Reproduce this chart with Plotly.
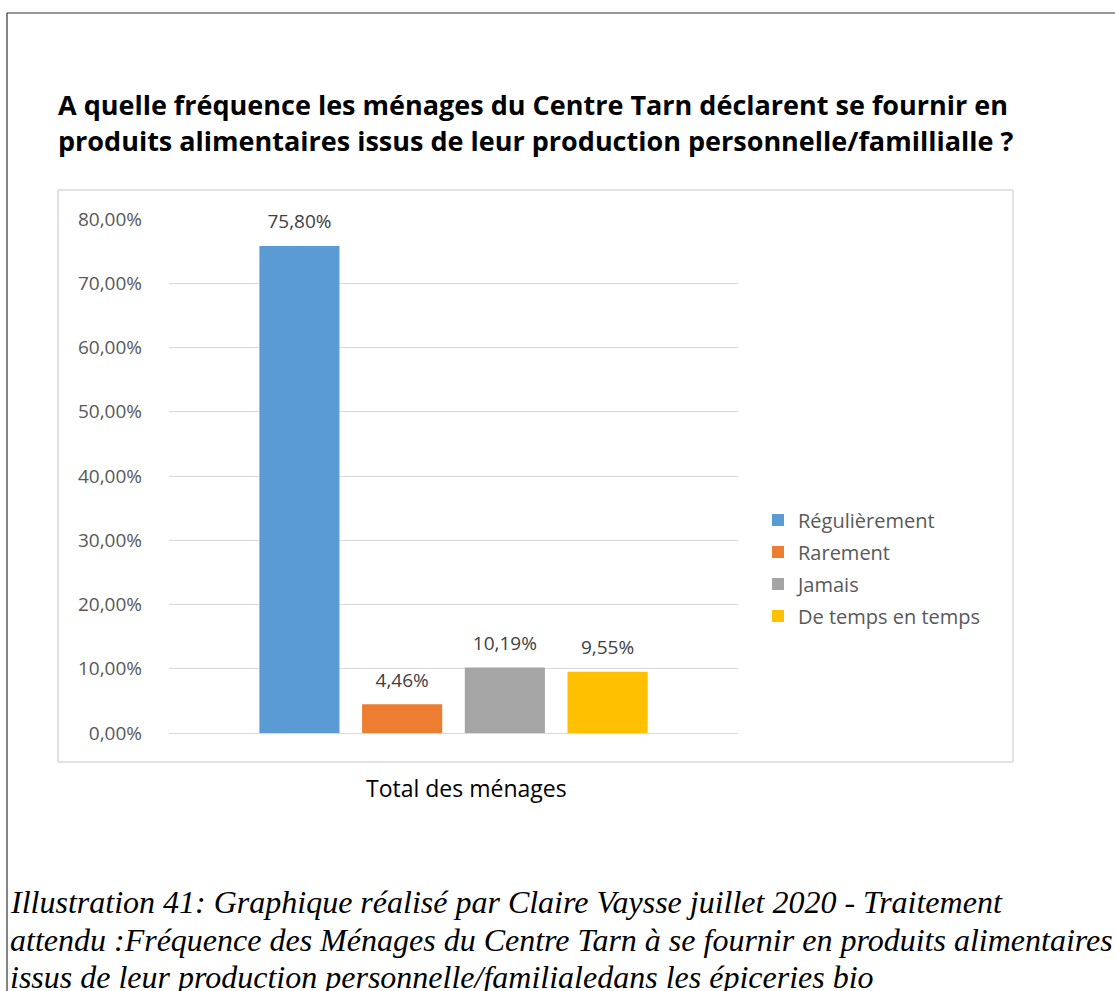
import plotly.graph_objects as go

# ---- data ----
category = ["Total des ménages"]
series_names = ["Régulièrement", "Rarement", "Jamais", "De temps en temps"]
series_values = [75.80, 4.46, 10.19, 9.55]
series_labels = ["75,80%", "4,46%", "10,19%", "9,55%"]
series_colors = ["#5B9BD5", "#ED7D31", "#A5A5A5", "#FFC000"]
tick_vals = [0, 10, 20, 30, 40, 50, 60, 70, 80]
tick_text = ["0,00%", "10,00%", "20,00%", "30,00%", "40,00%", "50,00%",
             "60,00%", "70,00%", "80,00%"]
title_lines = [
    "A quelle fréquence les ménages du Centre Tarn déclarent se fournir en",
    "produits alimentaires issus de leur production personnelle/famillialle ?",
]
caption_lines = [
    "Illustration 41: Graphique réalisé par Claire Vaysse juillet 2020 - Traitement",
    "attendu :Fréquence des Ménages du Centre Tarn à se fournir en produits alimentaires",
    "issus de leur production personnelle/familialedans les épiceries bio",
]

W, H = 1115, 991
PL, PR, PT, PB = 169, 738, 219, 733  # plot area in pixels


def px(x):
    return (x - PL) / (PR - PL)


def py(y):
    return (PB - y) / (PB - PT)


FONT = "Open Sans"
fig = go.Figure()
for name, val, lab, col in zip(series_names, series_values, series_labels, series_colors):
    fig.add_trace(go.Bar(
        x=category, y=[val], name=name, marker=dict(color=col, line=dict(width=0)),
        text=[lab],
        texttemplate="<span style='font-size:19px'>%{text}</span><br> ",
        textposition="outside",
        textfont=dict(family=FONT, size=9, color="#404040"),
        cliponaxis=False, legendgroup=name,
    ))

annotations = []
# title
for k, t in enumerate(title_lines):
    annotations.append(dict(text="<b>" + t + "</b>", xref="paper", yref="paper",
                            x=px(56), y=py(105 + k * 35), xanchor="left", yanchor="middle",
                            showarrow=False, font=dict(family=FONT, size=27, color="#000000")))
# x axis category label
annotations.append(dict(text=category[0], xref="paper", yref="paper",
                        x=px(466), y=py(788), xanchor="center", yanchor="middle",
                        showarrow=False, font=dict(family=FONT, size=23, color="#000000")))
# caption
for k, t in enumerate(caption_lines):
    annotations.append(dict(text="<i>" + t + "</i>", xref="paper", yref="paper",
                            x=px(8), y=py(902 + k * 37.5), xanchor="left", yanchor="middle",
                            showarrow=False,
                            font=dict(family="Liberation Serif", size=32, color="#000000")))

shapes = [
    # inner chart box
    dict(type="rect", xref="paper", yref="paper", x0=px(58), x1=px(1013), y0=py(762), y1=py(190),
         line=dict(color="#D9D9D9", width=1.5), fillcolor="rgba(0,0,0,0)", layer="below"),
    # outer frame (left + top)
    dict(type="line", xref="paper", yref="paper", x0=px(7), x1=px(7), y0=py(13), y1=py(995),
         line=dict(color="#333333", width=1.2)),
    dict(type="line", xref="paper", yref="paper", x0=px(7), x1=px(1120), y0=py(13), y1=py(13),
         line=dict(color="#333333", width=1.2)),
]

fig.update_layout(
    width=W, height=H,
    margin=dict(l=PL, r=W - PR, t=PT, b=H - PB, pad=0),
    paper_bgcolor="white", plot_bgcolor="white",
    barmode="group", bargap=0.278, bargroupgap=0.22,
    showlegend=True,
    legend=dict(x=px(758), y=py(568), xanchor="left", yanchor="middle",
                font=dict(family=FONT, size=20, color="#595959"),
                traceorder="grouped", tracegroupgap=3, itemwidth=30,
                bgcolor="rgba(0,0,0,0)"),
    xaxis=dict(showticklabels=False, showgrid=False, zeroline=False, showline=False, ticks=""),
    yaxis=dict(range=[0, 80], tickvals=tick_vals, ticktext=tick_text,
               showgrid=True, gridcolor="#D9D9D9", gridwidth=1,
               zeroline=True, zerolinecolor="#D9D9D9", zerolinewidth=1,
               showline=False, ticks="", ticklabelstandoff=26,
               tickfont=dict(family=FONT, size=19, color="#595959")),
    annotations=annotations, shapes=shapes,
    font=dict(family=FONT),
)

fig.write_html("out.html", config={"displayModeBar": False},
               post_script="document.body.style.margin='0';document.body.style.overflow='hidden';")
